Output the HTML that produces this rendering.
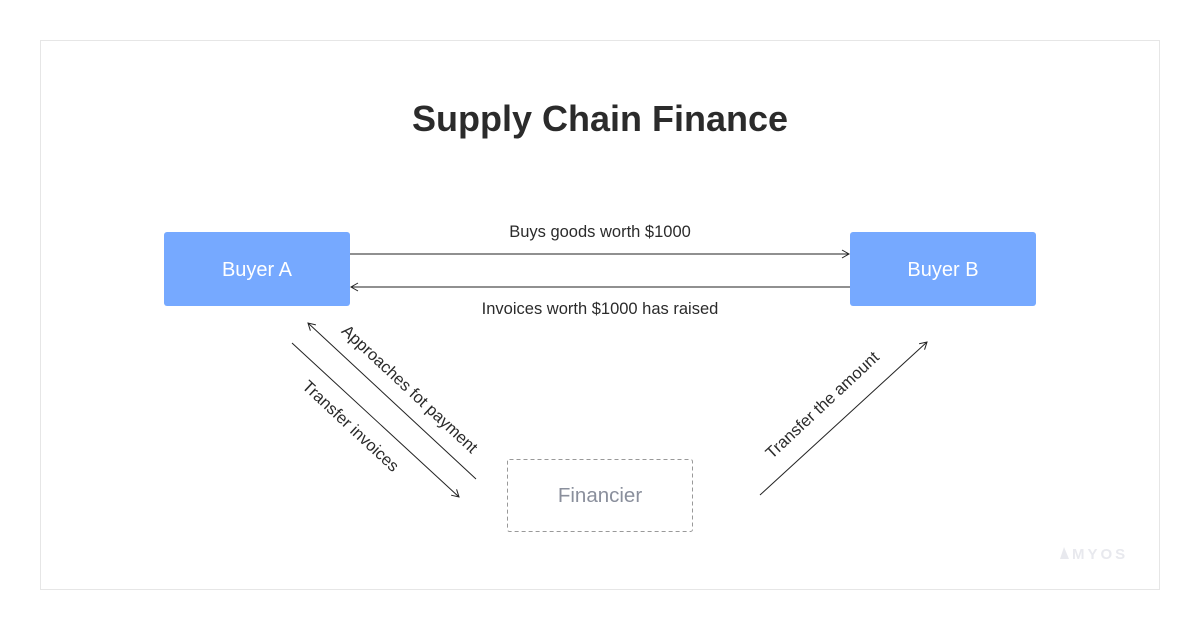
<!DOCTYPE html>
<html><head><style>
body{margin:0;background:#fff;width:1200px;height:630px;overflow:hidden}
</style></head><body>
<svg width="1200" height="630" xmlns="http://www.w3.org/2000/svg" font-family="Liberation Sans, sans-serif">
<defs>
<marker id="a" markerWidth="10" markerHeight="10" refX="8" refY="5" orient="auto" markerUnits="userSpaceOnUse">
<path d="M1,1 L8,5 L1,9" fill="none" stroke="#222" stroke-width="1"/>
</marker>
</defs>
<rect x="40.5" y="40.5" width="1119" height="549" fill="#fff" stroke="#e6e6e6"/>
<text x="600" y="131" text-anchor="middle" font-size="36" font-weight="bold" fill="#2b2b2b">Supply Chain Finance</text>
<rect x="164" y="232" width="186" height="74" rx="3" fill="#76a9ff"/>
<text x="257" y="276" text-anchor="middle" font-size="20" fill="#fff">Buyer A</text>
<rect x="850" y="232" width="186" height="74" rx="3" fill="#76a9ff"/>
<text x="943" y="276" text-anchor="middle" font-size="20" fill="#fff">Buyer B</text>
<rect x="507.5" y="459.5" width="185" height="72" rx="2" fill="none" stroke="#999" stroke-dasharray="4,3"/>
<text x="600" y="502" text-anchor="middle" font-size="20.5" fill="#8a8f9c">Financier</text>
<line x1="350" y1="254" x2="849" y2="254" stroke="#222" stroke-width="1" marker-end="url(#a)"/>
<line x1="850" y1="287" x2="351" y2="287" stroke="#222" stroke-width="1" marker-end="url(#a)"/>
<text x="600" y="237" text-anchor="middle" font-size="16.5" fill="#2b2b2b">Buys goods worth $1000</text>
<text x="600" y="314" text-anchor="middle" font-size="16.5" fill="#2b2b2b">Invoices worth $1000 has raised</text>
<line x1="476" y1="479" x2="308" y2="323" stroke="#222" stroke-width="1" marker-end="url(#a)"/>
<line x1="292" y1="343" x2="459" y2="497" stroke="#222" stroke-width="1" marker-end="url(#a)"/>
<line x1="760" y1="495" x2="927" y2="342" stroke="#222" stroke-width="1" marker-end="url(#a)"/>
<text transform="translate(406,393) rotate(43)" text-anchor="middle" font-size="16.5" fill="#2b2b2b">Approaches fot payment</text>
<text transform="translate(347,430) rotate(43)" text-anchor="middle" font-size="16.5" fill="#2b2b2b">Transfer invoices</text>
<text transform="translate(826,409) rotate(-43)" text-anchor="middle" font-size="16.5" fill="#2b2b2b">Transfer the amount</text>
<path d="M1060,559 L1064,547 L1069,559 Z" fill="#e8e9ee"/>
<text x="1072" y="559" font-size="15" font-weight="bold" letter-spacing="3" fill="#e8e9ee">MYOS</text>
</svg>
</body></html>
